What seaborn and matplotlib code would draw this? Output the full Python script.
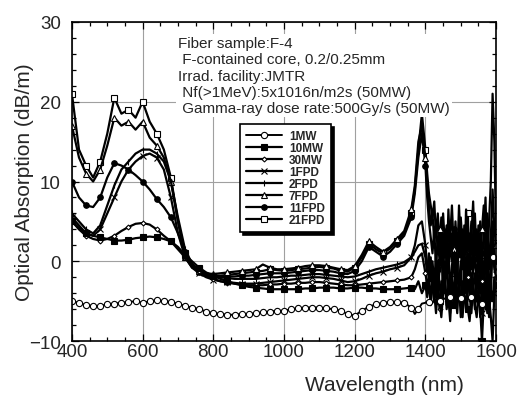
import numpy as np
import pandas as pd
import matplotlib
matplotlib.use("Agg")
import matplotlib.pyplot as plt
import seaborn as sns
from matplotlib.ticker import MultipleLocator

# wavelength grid (nm): 20 nm steps to 1360, 10 nm over the OH peak, 5 nm in the noisy tail
wavelength = [400, 420, 440, 460, 480, 500, 520, 540, 560, 580,
              600, 620, 640, 660, 680, 700, 720, 740, 760, 780,
              800, 820, 840, 860, 880, 900, 920, 940, 960, 980,
              1000, 1020, 1040, 1060, 1080, 1100, 1120, 1140, 1160, 1180,
              1200, 1220, 1240, 1260, 1280, 1300, 1320, 1340, 1360,
              1370, 1380, 1390,
              1400, 1405, 1410, 1415, 1420, 1425, 1430, 1435, 1440, 1445,
              1450, 1455, 1460, 1465, 1470, 1475, 1480, 1485, 1490, 1495,
              1500, 1505, 1510, 1515, 1520, 1525, 1530, 1535, 1540, 1545,
              1550, 1555, 1560, 1565, 1570, 1575, 1580, 1585, 1590, 1595,
              1600]

abs_1MW = [-5.0, -5.2, -5.5, -5.6, -5.6, -5.4, -5.3, -5.2, -5.1, -5.0,
           -5.2, -5.0, -4.9, -5.0, -5.1, -5.3, -5.6, -5.8, -6.0, -6.3,
           -6.5, -6.6, -6.7, -6.7, -6.6, -6.6, -6.5, -6.4, -6.3, -6.2,
           -6.2, -6.0, -5.9, -5.8, -5.8, -5.8, -5.9, -6.0, -6.2, -6.6,
           -6.8, -6.2, -5.7, -5.4, -5.2, -5.1, -5.1, -5.2, -5.8,
           -6.6, -6.0, -5.3,
           -5.2, -5.0, -5.1, -5.3, -5.2, -4.9, -4.8, -4.9, -5.0, -4.8,
           -4.6, -4.7, -4.8, -4.6, -4.5, -4.6, -4.7, -4.5, -4.4, -4.5,
           -4.6, -4.4, -4.3, -4.5, -4.8, -4.6, -4.5, -4.7, -4.9, -5.0,
           -5.2, -5.3, -5.4, -5.2, -5.0, -4.0, -3.0, -1.5, 0.5, 0.6,
           0.3]

abs_10MW = [5.0, 4.2, 3.5, 3.2, 3.0, 2.8, 2.6, 2.6, 2.7, 2.9,
            3.0, 3.1, 3.0, 2.8, 2.5, 1.8, 0.8, 0.0, -0.8, -1.4,
            -1.8, -2.2, -2.5, -2.8, -3.0, -3.2, -3.3, -3.4, -3.5, -3.5,
            -3.5, -3.5, -3.5, -3.4, -3.4, -3.3, -3.3, -3.3, -3.4, -3.4,
            -3.3, -3.3, -3.4, -3.4, -3.5, -3.5, -3.5, -3.4, -3.3,
            -3.5, -2.5, -4.0,
            -3.0, -4.5, -2.5, -5.5, -3.0, -4.0, -6.5, -3.5, -5.0, -7.0,
            -4.0, -2.5, -6.0, -4.5, -7.5, -3.0, -5.5, -4.0, -6.5, -2.5,
            -5.0, -7.0, -4.0, -3.0, -6.0, -7.5, -4.5, -2.5, -5.5, -7.0,
            -4.0, -6.0, -10.0, -5.0, -3.5, -6.5, -4.5, -7.0, -10.0, -4.0,
            -3.0]

abs_30MW = [5.0, 4.0, 3.2, 2.8, 2.6, 2.8, 3.2, 3.8, 4.3, 4.7,
            4.8, 4.6, 4.0, 3.2, 2.5, 1.5, 0.5, -0.5, -1.2, -1.8,
            -2.2, -2.5, -2.7, -2.8, -2.9, -3.0, -3.0, -3.0, -2.9, -2.9,
            -2.8, -2.8, -2.7, -2.7, -2.6, -2.6, -2.7, -2.8, -2.9, -3.0,
            -3.0, -2.9, -2.8, -2.7, -2.6, -2.5, -2.4, -2.3, -2.0,
            -1.0, 0.5, 1.0,
            -1.5, -3.0, -2.0, -4.5, -2.5, -5.0, -1.5, -3.5, -6.0, -2.5,
            -4.0, -1.5, -5.5, -3.0, -6.5, -2.0, -4.5, -1.0, -5.0, -3.0,
            -7.0, -2.5, -4.5, -6.0, -2.0, -4.0, -6.5, -3.0, -1.5, -5.0,
            -3.5, -7.0, -2.5, -4.5, -6.0, -2.0, -7.0, -3.5, -5.0, -2.0,
            -4.0]

abs_1FPD = [5.5, 4.5, 3.5, 3.2, 4.0, 6.0, 8.0, 10.0, 11.5, 12.5,
            13.2, 13.5, 13.0, 11.5, 8.0, 3.5, 0.5, -0.8, -1.5, -2.0,
            -2.3, -2.5, -2.6, -2.7, -2.8, -2.8, -2.8, -2.7, -2.6, -2.5,
            -2.4, -2.3, -2.2, -2.1, -2.0, -2.0, -2.1, -2.2, -2.4, -2.6,
            -2.5, -2.2, -1.8, -1.5, -1.3, -1.0, -0.8, -0.5, 0.5,
            2.0, 4.5, 5.0,
            2.0, -0.5, -2.5, 0.5, -3.5, -1.0, -4.5, 0.0, -3.0, -5.0,
            -1.0, -4.0, 0.5, -3.5, -6.0, -2.0, 1.0, -4.5, -1.5, -3.0,
            0.0, -5.5, -2.0, -4.0, 1.0, -5.0, -1.5, -3.5, -6.0, -1.0,
            -4.0, 0.5, -6.5, -2.0, -4.0, 1.5, -3.0, -5.0, 3.0, 0.0,
            -1.0]

abs_2FPD = [6.0, 5.0, 4.0, 3.5, 4.5, 7.0, 9.5, 11.5, 12.5, 13.5,
            14.0, 14.0, 13.5, 12.5, 10.0, 5.5, 1.5, -0.3, -1.2, -1.6,
            -1.9, -2.0, -2.1, -2.2, -2.2, -2.2, -2.2, -2.1, -2.0, -2.0,
            -1.9, -1.8, -1.8, -1.7, -1.6, -1.6, -1.7, -1.8, -1.9, -2.0,
            -1.9, -1.6, -1.3, -1.0, -0.8, -0.6, -0.4, -0.1, 0.5,
            1.2, 2.0, 2.2,
            0.5, -1.5, 1.0, -2.5, 0.0, -3.0, 1.0, -4.0, -1.0, 1.5,
            -3.5, 0.0, -2.0, 2.0, -4.5, -0.5, 1.0, -3.0, 0.5, -5.0,
            -1.0, 2.0, -3.5, 0.0, -2.0, 1.5, -4.5, -1.0, 0.5, -3.0,
            2.0, -4.0, 0.0, -5.5, 1.0, -2.0, -5.0, 0.5, 2.0, -1.0,
            -2.0]

abs_7FPD = [17.0, 13.0, 11.0, 10.0, 11.5, 14.5, 18.0, 17.0, 17.5, 16.5,
            17.5, 15.5, 14.5, 13.0, 10.0, 5.0, 0.5, -0.8, -1.2, -1.5,
            -1.6, -1.5, -1.4, -1.3, -1.2, -1.1, -1.0, -0.4, -0.8, -1.0,
            -1.0, -0.9, -0.8, -0.6, -0.5, -0.5, -0.6, -0.8, -1.0, -1.1,
            -0.6, 0.8, 2.5, 1.8, 1.2, 1.8, 2.8, 3.8, 6.5,
            9.5, 15.0, 17.0,
            13.0, 9.0, 7.0, 4.5, 6.0, 2.5, 5.0, 1.0, 4.0, -0.5,
            6.0, 2.0, 4.5, 0.0, 3.0, 7.0, 1.5, -1.0, 3.5, 0.5,
            5.5, 2.0, -1.5, 6.5, 1.0, 3.5, -1.0, 2.5, 6.0, 0.0,
            3.0, -2.0, 4.0, 7.0, 1.0, 4.5, -1.0, 3.0, 9.0, 4.0,
            2.0]

abs_11FPD = [10.0, 8.0, 7.0, 6.8, 8.0, 10.5, 12.3, 12.0, 11.5, 10.8,
             10.0, 9.0, 7.8, 6.8, 5.5, 3.5, 1.2, -0.5, -1.3, -1.8,
             -2.0, -2.0, -1.9, -1.9, -1.8, -1.8, -1.7, -1.6, -1.5, -1.5,
             -1.5, -1.4, -1.3, -1.2, -1.1, -1.1, -1.2, -1.3, -1.5, -1.6,
             -1.2, 0.0, 1.8, 1.2, 0.6, 1.2, 2.2, 3.2, 5.5,
             8.5, 13.0, 16.0,
             12.0, 8.0, 5.0, 3.0, 1.0, 4.0, -1.0, 3.0, 0.0, 2.0,
             -2.0, 3.5, 1.0, -1.5, 2.5, 0.0, 4.0, 1.0, -2.0, 3.0,
             0.5, 4.0, -1.0, 2.0, -2.5, 1.5, 5.0, -1.0, 2.5, 0.0,
             4.5, -1.5, 1.0, -3.0, 3.0, 6.0, 0.0, 2.0, 5.0, 1.0,
             0.0]

abs_21FPD = [21.0, 14.0, 12.0, 10.5, 12.5, 16.0, 20.5, 18.5, 19.0, 18.0,
             20.0, 17.5, 16.0, 14.0, 10.5, 5.0, 1.0, -0.5, -1.0, -1.5,
             -1.8, -1.8, -1.7, -1.6, -1.5, -1.4, -1.3, -1.2, -1.0, -1.1,
             -1.2, -1.1, -1.0, -0.9, -0.8, -0.7, -0.8, -0.9, -1.2, -1.3,
             -0.8, 0.5, 2.2, 1.5, 1.0, 1.6, 2.5, 3.5, 6.0,
             9.0, 14.0, 18.5,
             14.0, 11.0, 8.5, 7.0, 5.5, 7.5, 3.0, 6.0, 2.0, 5.5,
             0.5, 4.0, -1.0, 6.5, 1.0, 3.5, -1.5, 5.0, 0.0, 7.0,
             2.0, -1.0, 4.5, 0.0, 6.0, -2.0, 3.0, 7.5, 1.0, 4.0,
             -1.0, 5.0, 0.0, 3.0, 8.0, -1.0, 5.0, 10.0, 21.0, 15.0,
             3.0]

series_names = ["1MW", "10MW", "30MW", "1FPD", "2FPD", "7FPD", "11FPD", "21FPD"]
series_values = [abs_1MW, abs_10MW, abs_30MW, abs_1FPD, abs_2FPD,
                 abs_7FPD, abs_11FPD, abs_21FPD]

info_lines = ["Fiber sample:F-4",
              " F-contained core, 0.2/0.25mm",
              "Irrad. facility:JMTR",
              " Nf(>1MeV):5x1016n/m2s (50MW)",
              " Gamma-ray dose rate:500Gy/s (50MW)"]

# marker style per series (symbol, face colour, size)
marker_style = [("o", "white", 4.5), ("s", "black", 4), ("D", "white", 2.5), ("x", "black", 4),
                ("|", "black", 4), ("^", "white", 4), ("o", "black", 4), ("s", "white", 4)]

# where the symbols sit along the curves
every_40 = [i for i, w in enumerate(wavelength) if w % 40 == 0]
circle_marks = [i for i, w in enumerate(wavelength)
                if (w < 1400 and w % 20 == 0) or (w >= 1400 and w % 30 == 0)]

sns.set_style("ticks")
plt.rcParams['font.family'] = ['Liberation Sans', 'DejaVu Sans']

fig = plt.figure(figsize=(5.25, 4.02), dpi=100)
ax = fig.add_axes([0.137, 0.149, 0.808, 0.794])

# draw the high-dose curves first, the 1MW curve last so its open circles stay on top
for k in [7, 6, 5, 4, 3, 2, 1, 0]:
    name = series_names[k]
    mk, mfc, ms = marker_style[k]
    df = pd.DataFrame({"Wavelength": wavelength, "Absorption": series_values[k]})
    sns.lineplot(
        data=df,
        x="Wavelength",
        y="Absorption",
        ax=ax,
        color="black",
        linewidth=1.6 if name != "1MW" else 1.4,
        marker=mk,
        markersize=ms,
        markerfacecolor=mfc,
        markeredgecolor="black",
        markeredgewidth=0.8,
        markevery=circle_marks if name == "1MW" else every_40,
        label=name,
        zorder=3 + (8 - k) * 0.01 if name != "1MW" else 4
    )

ax.set_xlim(400, 1600)
ax.set_ylim(-10, 30)
ax.xaxis.set_major_locator(MultipleLocator(200))
ax.xaxis.set_minor_locator(MultipleLocator(50))
ax.yaxis.set_major_locator(MultipleLocator(10))
ax.yaxis.set_minor_locator(MultipleLocator(2))
ax.tick_params(which="both", direction="in", top=True, right=True,
               labelsize=13.5, width=0.9, color="black")
ax.tick_params(which="major", length=5)
ax.tick_params(which="minor", length=3)
ax.tick_params(axis="y", pad=8)
ax.tick_params(axis="x", pad=1.5)
ax.grid(True, which="major", color="#a0a0a0", linewidth=0.8)
for sp in ax.spines.values():
    sp.set_linewidth(1.2)
    sp.set_color("black")
    sp.set_zorder(6)

ax.set_xlabel("Wavelength (nm)", fontsize=15)
ax.set_ylabel("Optical Absorption (dB/m)", fontsize=15)
ax.xaxis.set_label_coords(0.736, -0.105)
ax.yaxis.set_label_coords(-0.09, 0.5)

ax.text(0.25, 0.955, "\n".join(info_lines), transform=ax.transAxes,
        fontsize=11, va="top", ha="left", linespacing=1.2,
        bbox=dict(facecolor="white", edgecolor="none", pad=1.5), zorder=5)

# legend in dose order
handles, labels = ax.get_legend_handles_labels()
order = [labels.index(n) for n in series_names]
leg = ax.legend(
    [handles[i] for i in order],
    [labels[i] for i in order],
    loc="upper left",
    bbox_to_anchor=(0.396, 0.68),
    borderaxespad=0,
    fancybox=False,
    shadow={"color": "black", "alpha": 1.0},
    edgecolor="black",
    framealpha=1.0,
    handlelength=3.05,
    labelspacing=0.0,
    borderpad=0.5,
    handletextpad=0.6,
    prop={"family": ["Liberation Sans Narrow", "Liberation Sans"],
          "weight": "bold", "size": 8.5}
)
leg.get_frame().set_linewidth(1.2)
leg.set_zorder(7)
for hl in leg.get_lines():
    hl.set_markevery([1])

plt.savefig("out.png", dpi=100)
